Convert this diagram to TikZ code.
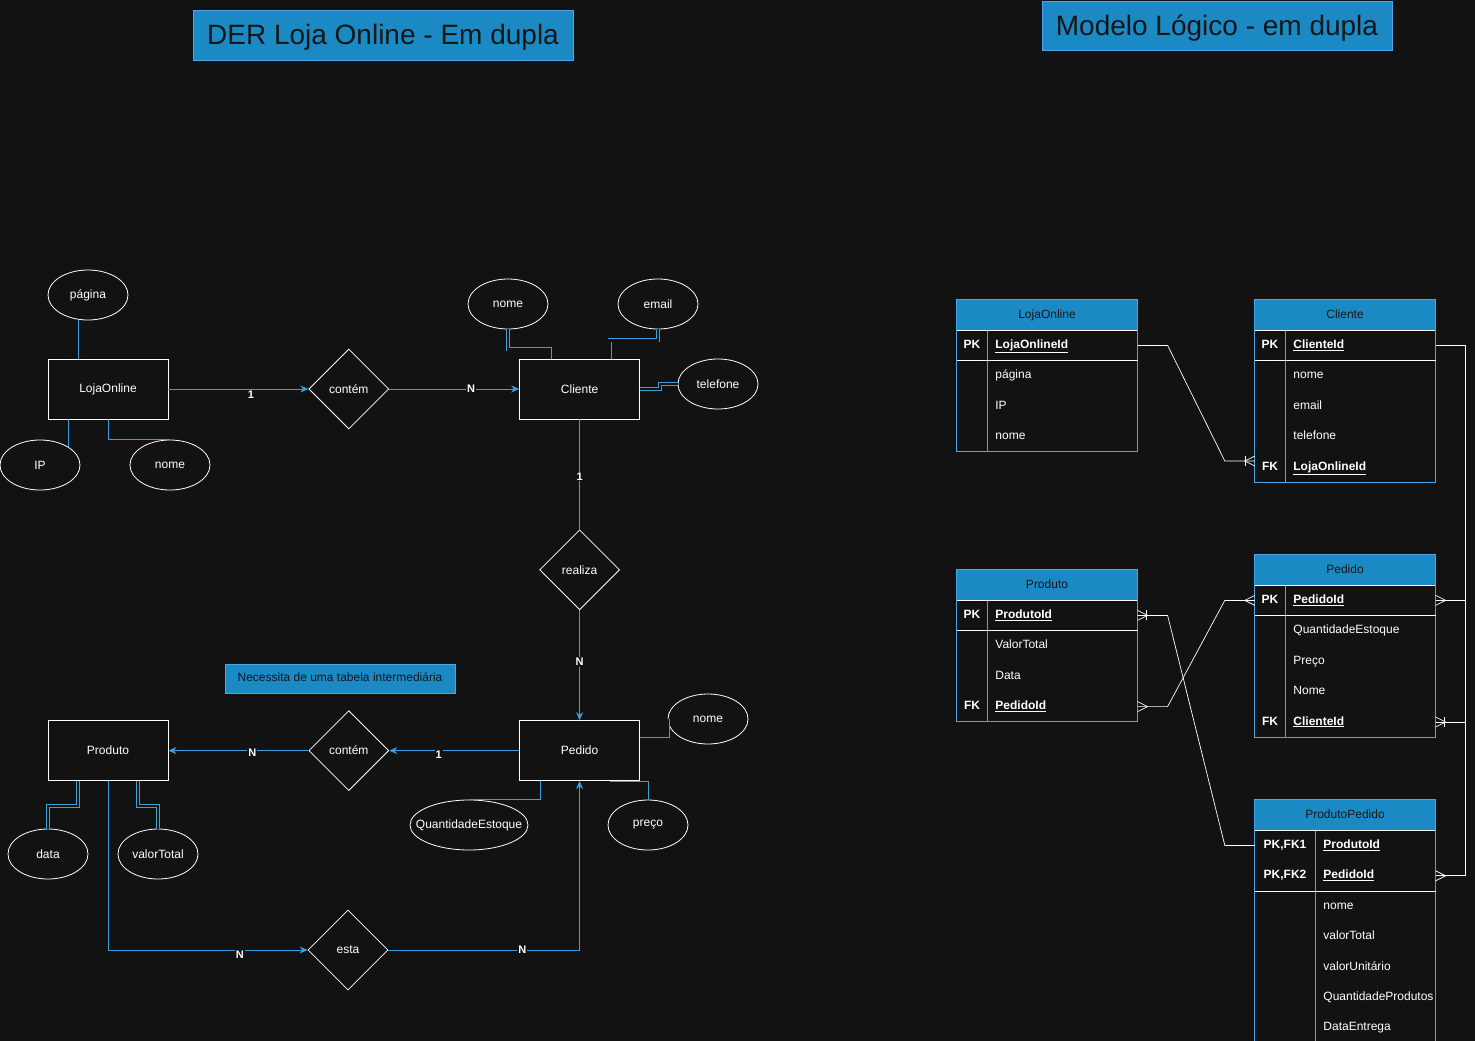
\documentclass[tikz,border=0pt]{standalone}
\usepackage{fontspec}
\setmainfont{Liberation Sans}
\usepackage{tikz}
\usetikzlibrary{positioning}
\usetikzlibrary{shapes}
\usetikzlibrary{arrows.meta}

\definecolor{bgdark}{HTML}{121212}
\definecolor{hdrblue}{HTML}{1B8AC4}
\definecolor{edgeblue}{HTML}{4DA6E3}
\definecolor{linkblue}{HTML}{3D9FDB}
\definecolor{hdrtext}{HTML}{161616}

\newcommand{\keyname}[1]{\textbf{\underline{#1}}}

\tikzstyle{entity}=[rectangle,draw=white,fill=bgdark,text=white,minimum width=120pt,minimum height=60pt,line width=0.8pt]
\tikzstyle{attrib}=[ellipse,draw=white,fill=bgdark,text=white,minimum width=80pt,minimum height=50pt,inner sep=0pt,line width=0.8pt]
\tikzstyle{relship}=[diamond,draw=white,fill=bgdark,text=white,minimum width=80pt,minimum height=80pt,inner sep=0pt,line width=0.8pt]
\tikzstyle{erarrow}=[draw=linkblue,line width=0.8pt,-{Stealth[length=8pt,width=7pt]}]
\tikzstyle{erline}=[draw=linkblue,line width=0.8pt]
\tikzstyle{erdouble}=[draw=linkblue,line width=0.8pt,double=bgdark,double distance=2.4pt]
\tikzstyle{card}=[fill=bgdark,text=white,font=\fontsize{11}{13}\selectfont\bfseries,inner sep=1pt]
\tikzstyle{titlebox}=[rectangle,draw=edgeblue,fill=hdrblue,text=hdrtext,font=\fontsize{28}{32}\selectfont,text height=20pt,text depth=0pt,line width=0.8pt]
\tikzstyle{notebox}=[rectangle,draw=edgeblue,fill=hdrblue,text=hdrtext,minimum width=230pt,minimum height=29pt,text height=9pt,text depth=3pt,line width=0.8pt]
\tikzstyle{tabhead}=[rectangle,fill=hdrblue,text=hdrtext,minimum width=180pt,minimum height=30pt,inner sep=0pt,text height=9pt,text depth=3pt]
\tikzstyle{keycell}=[rectangle,text=white,font=\fontsize{12}{14}\selectfont\bfseries,minimum width=30pt,minimum height=30pt,inner sep=0pt,text height=9pt,text depth=3pt]
\tikzstyle{keywide}=[keycell,minimum width=60pt]
\tikzstyle{fieldcell}=[rectangle,text=white,text width=134pt,align=left,minimum height=30pt,inner xsep=8pt,inner ysep=0pt,text height=9pt,text depth=3pt]
\tikzstyle{fieldnarrow}=[fieldcell,text width=104pt]
\tikzstyle{tabframe}=[draw=edgeblue,line width=0.8pt]
\tikzstyle{tabsep}=[draw=white,line width=0.8pt]
\tikzstyle{rel}=[draw=white,line width=0.7pt]

\tikzset{
	crowmany/.pic={\draw[rel] (0,-5) -- (10,0) -- (0,5);},
	crowonemany/.pic={\draw[rel] (0,-5) -- (10,0) -- (0,5); \draw[rel] (9,-5) -- (9,5);}
}

\begin{document}
\begin{tikzpicture}[x=1pt,y=-1pt,font=\fontsize{12}{14}\selectfont]

	\useasboundingbox (0,0) rectangle (1475,1041);
	\fill[bgdark] (0,0) rectangle (1475,1041);

	\def\a{140pt}
	\def\b{130pt}
	\def\c{110pt}

	% titles
	\node[titlebox,minimum width=380pt,minimum height=50pt] (derTitle) at (383,35) {DER Loja Online - Em dupla};
	\node[titlebox,minimum width=350pt,minimum height=49pt] (logTitle) at (1217,25.5) {Modelo Lógico - em dupla};

	% conceptual model
	\node[entity] (loja) at (108,389) {LojaOnline};
	\node[relship, right = \a of loja] (contem1) {contém};
	\node[entity, right = \b of contem1] (cliente) {Cliente};
	\node[relship, below = \c of cliente] (realiza) {realiza};
	\node[entity, below = \c of realiza] (pedido) {Pedido};
	\node[relship, left = \b of pedido] (contem2) {contém};
	\node[entity, left = \a of contem2] (produto) {Produto};
	\node[relship] (esta) at (348,950) {esta};

	\node[attrib] (pagina) at (88,295) {página};
	\node[attrib] (ip) at (40,465) {IP};
	\node[attrib] (lnome) at (170,465) {nome};

	\node[attrib] (cnome) at (508,304) {nome};
	\node[attrib] (email) at (658,304) {email};
	\node[attrib] (telefone) at (718,384) {telefone};

	\node[attrib] (pnome) at (708,719) {nome};
	\node[attrib,minimum width=118pt] (qtd) at (469,825) {\makebox[0pt]{QuantidadeEstoque}};
	\node[attrib] (preco) at (648,825) {preço};

	\node[attrib] (data) at (48,854) {data};
	\node[attrib] (vtotal) at (158,854) {valorTotal};

	\node[notebox] (nota) at (340,678.5) {Necessita de uma tabela intermediária};

	\draw[erarrow] (loja) -- node[card,pos=.59,yshift=-6pt] {1} (contem1);
	\draw[erarrow] (contem1) -- node[card,pos=.63] {N} (cliente);
	\draw[erline] (cliente) -- node[card,pos=.52] {1} (realiza);
	\draw[erarrow] (realiza) -- node[card,pos=.47] {N} (pedido);
	\draw[erarrow] (pedido) -- node[card,pos=.62,yshift=-4pt] {1} (contem2);
	\draw[erarrow] (contem2) -- node[card,pos=.4,yshift=-2pt] {N} (produto);
	\draw[erarrow] (produto) |- node[card,pos=.83,yshift=-5pt] {N} (esta);
	\draw[erarrow] (esta) -| node[card,pos=.35] {N} (pedido);

	\draw[erline] ([xshift=-30pt]loja.north) -- ([xshift=-30pt]loja.north |- pagina.south);
	\draw[erline] (loja.south -| ip.north east) -- (ip.north east);
	\draw[erline] (loja.south) |- (lnome.north);

	\draw[erdouble] (cnome.south) -- ++(0,20) -| ([xshift=-30pt]cliente.north);
	\draw[erdouble] (email.south) -- ++(0,11) -| ([xshift=30pt]cliente.north);
	\draw[erdouble] (cliente.east) -- ++(20,0) |- (telefone.west);

	\draw[erdouble] ([yshift=15pt]pedido.east) -| (pnome.west);
	\draw[erline] ([xshift=-39pt]pedido.south) |- (qtd.north);
	\draw[erline] ([xshift=30pt]pedido.south) -| (preco.north);

	\draw[erdouble] ([xshift=-30pt]produto.south) -- ++(0,25) -| (data.north);
	\draw[erdouble] ([xshift=30pt]produto.south) -- ++(0,25) -| (vtotal.north);

	% logical model
	\node[tabhead] (lojaHead) at (1047,315) {LojaOnline};
	\node[keycell, below right = 0pt and 0pt of lojaHead.south west] (lojaPKk) {PK};
	\node[fieldcell, right = 0pt of lojaPKk] (lojaPK) {\keyname{LojaOnlineId}};
	\node[fieldcell, below = 0pt of lojaPK] (lojaPag) {página};
	\node[fieldcell, below = 0pt of lojaPag] (lojaIP) {IP};
	\node[fieldcell, below = 0pt of lojaIP] (lojaNome) {nome};
	\draw[tabframe] (lojaHead.north west) rectangle (lojaNome.south east);
	\draw[tabframe] (lojaPKk.north east) -- (lojaPKk.north east |- lojaNome.south);
	\draw[tabsep] (lojaHead.south west) -- (lojaHead.south east);
	\draw[tabsep] (lojaPKk.south west) -- (lojaPK.south east);

	\node[tabhead] (cliHead) at (1345,315) {Cliente};
	\node[keycell, below right = 0pt and 0pt of cliHead.south west] (cliPKk) {PK};
	\node[fieldcell, right = 0pt of cliPKk] (cliPK) {\keyname{ClienteId}};
	\node[fieldcell, below = 0pt of cliPK] (cliNome) {nome};
	\node[fieldcell, below = 0pt of cliNome] (cliEmail) {email};
	\node[fieldcell, below = 0pt of cliEmail] (cliTel) {telefone};
	\node[fieldcell, below = 0pt of cliTel] (cliFK) {\keyname{LojaOnlineId}};
	\node[keycell, left = 0pt of cliFK] (cliFKk) {FK};
	\draw[tabframe] (cliHead.north west) rectangle (cliFK.south east);
	\draw[tabframe] (cliPKk.north east) -- (cliFKk.south east);
	\draw[tabsep] (cliHead.south west) -- (cliHead.south east);
	\draw[tabsep] (cliPKk.south west) -- (cliPK.south east);

	\node[tabhead] (prodHead) at (1047,585) {Produto};
	\node[keycell, below right = 0pt and 0pt of prodHead.south west] (prodPKk) {PK};
	\node[fieldcell, right = 0pt of prodPKk] (prodPK) {\keyname{ProdutoId}};
	\node[fieldcell, below = 0pt of prodPK] (prodVal) {ValorTotal};
	\node[fieldcell, below = 0pt of prodVal] (prodData) {Data};
	\node[fieldcell, below = 0pt of prodData] (prodFK) {\keyname{PedidoId}};
	\node[keycell, left = 0pt of prodFK] (prodFKk) {FK};
	\draw[tabframe] (prodHead.north west) rectangle (prodFK.south east);
	\draw[tabframe] (prodPKk.north east) -- (prodFKk.south east);
	\draw[tabsep] (prodHead.south west) -- (prodHead.south east);
	\draw[tabsep] (prodPKk.south west) -- (prodPK.south east);

	\node[tabhead] (pedHead) at (1345,570) {Pedido};
	\node[keycell, below right = 0pt and 0pt of pedHead.south west] (pedPKk) {PK};
	\node[fieldcell, right = 0pt of pedPKk] (pedPK) {\keyname{PedidoId}};
	\node[fieldcell, below = 0pt of pedPK] (pedQtd) {QuantidadeEstoque};
	\node[fieldcell, below = 0pt of pedQtd] (pedPreco) {Preço};
	\node[fieldcell, below = 0pt of pedPreco] (pedNome) {Nome};
	\node[fieldcell, below = 0pt of pedNome] (pedFK) {\keyname{ClienteId}};
	\node[keycell, left = 0pt of pedFK] (pedFKk) {FK};
	\draw[tabframe] (pedHead.north west) rectangle (pedFK.south east);
	\draw[tabframe] (pedPKk.north east) -- (pedFKk.south east);
	\draw[tabsep] (pedHead.south west) -- (pedHead.south east);
	\draw[tabsep] (pedPKk.south west) -- (pedPK.south east);

	\node[tabhead] (ppHead) at (1345,815) {ProdutoPedido};
	\node[keywide, below right = 0pt and 0pt of ppHead.south west] (ppFK1k) {PK,FK1};
	\node[fieldnarrow, right = 0pt of ppFK1k] (ppFK1) {\keyname{ProdutoId}};
	\node[fieldnarrow, below = 0pt of ppFK1] (ppFK2) {\keyname{PedidoId}};
	\node[keywide, left = 0pt of ppFK2] (ppFK2k) {PK,FK2};
	\node[fieldnarrow, below = 0pt of ppFK2] (ppNome) {nome};
	\node[fieldnarrow, below = 0pt of ppNome] (ppTotal) {valorTotal};
	\node[fieldnarrow, below = 0pt of ppTotal] (ppUnit) {valorUnitário};
	\node[fieldnarrow, below = 0pt of ppUnit] (ppQtd) {\mbox{QuantidadeProdutos}};
	\node[fieldnarrow, below = 0pt of ppQtd] (ppEntrega) {DataEntrega};
	\draw[tabframe] (ppHead.north west) rectangle (ppEntrega.south east);
	\draw[tabframe] (ppFK1k.north east) -- (ppFK1k.north east |- ppEntrega.south);
	\draw[tabsep] (ppHead.south west) -- (ppHead.south east);
	\draw[tabsep] (ppFK2k.south west) -- (ppFK2.south east);

	% relations
	\draw[rel] (lojaPK.east) -- ++(30,0) -- ([xshift=-30pt,yshift=6pt]cliFKk.west) -- ([yshift=6pt]cliFKk.west);
	\draw[rel] (cliPK.east) -- ++(30,0) |- (pedFK.east);
	\draw[rel] (pedPK.east) -- ++(30,0) |- (ppFK2.east);
	\draw[rel] (prodPK.east) -- ++(30,0) -- ([xshift=-30pt]ppFK1k.west) -- (ppFK1k.west);
	\draw[rel] (prodFK.east) -- ++(30,0) -- ([xshift=-30pt]pedPKk.west) -- (pedPKk.west);

	\pic[rotate=180] at ([yshift=6pt]cliFKk.west) {crowonemany};
	\pic at (pedFK.east) {crowonemany};
	\pic at (pedPK.east) {crowmany};
	\pic at (ppFK2.east) {crowmany};
	\pic at (prodPK.east) {crowonemany};
	\pic at (prodFK.east) {crowmany};
	\pic[rotate=180] at (pedPKk.west) {crowmany};

\end{tikzpicture}
\end{document}
